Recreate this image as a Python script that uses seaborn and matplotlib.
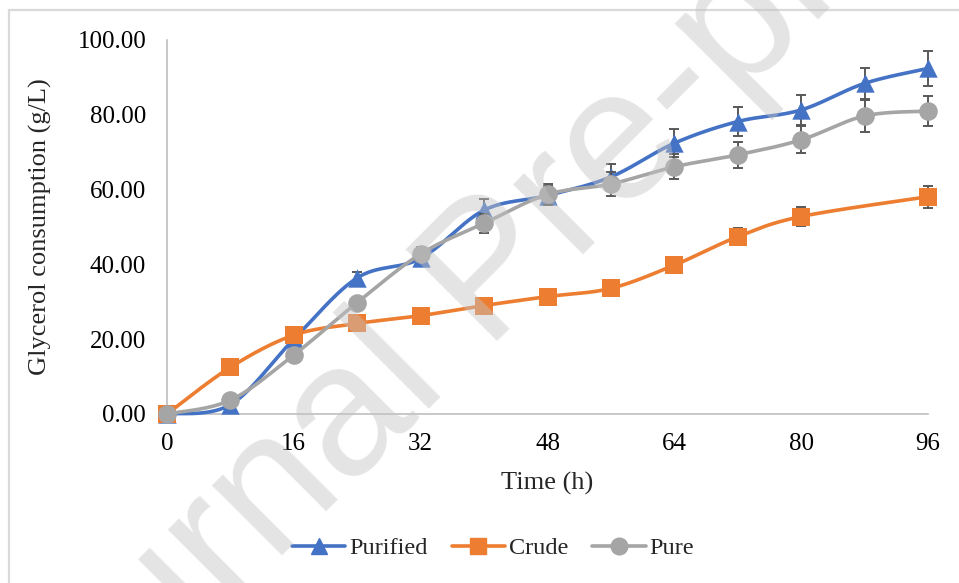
import numpy as np
import pandas as pd
import matplotlib
matplotlib.use("Agg")
import matplotlib.pyplot as plt
from matplotlib.lines import Line2D
from matplotlib.patches import Rectangle
from matplotlib.ticker import FormatStrFormatter
import seaborn as sns

# ---- data -------------------------------------------------------------
time_h = [0, 8, 16, 24, 32, 40, 48, 56, 64, 72, 80, 88, 96]

purified = [0.0, 2.5, 20.0, 36.4, 41.6, 54.5, 58.4, 63.4, 72.4, 78.2, 81.3, 88.4, 92.4]
purified_sd = [0.0, 0.3, 0.6, 1.6, 1.0, 2.9, 2.6, 3.4, 3.7, 3.8, 4.0, 4.2, 4.7]

crude = [0.0, 12.5, 21.1, 24.2, 26.3, 29.0, 31.4, 33.6, 39.8, 47.4, 52.8, np.nan, 58.1]
crude_sd = [0.0, 0.4, 0.5, 0.5, 0.5, 0.5, 0.4, 0.4, 1.2, 2.2, 2.6, np.nan, 2.9]

pure = [0.0, 3.7, 15.8, 29.8, 42.8, 51.0, 58.7, 61.5, 66.1, 69.3, 73.3, 79.7, 81.0]
pure_sd = [0.0, 0.4, 0.6, 0.8, 1.8, 2.5, 2.9, 3.1, 3.3, 3.4, 3.6, 4.2, 4.0]

series_names = ["Purified", "Crude", "Pure"]
series_colors = ["#4472C4", "#ED7D31", "#A5A5A5"]
series_markers = ["^", "s", "o"]
x_ticks = [0, 16, 32, 48, 64, 80, 96]
y_ticks = [0, 20, 40, 60, 80, 100]


def smooth_curve(x, y, n=40):
    """Cubic Bezier smoothing through the points (Catmull-Rom style)."""
    pts = np.column_stack([x, y])
    P = np.vstack([pts[0], pts, pts[-1]])
    t = np.linspace(0, 1, n)[:, None]
    out = []
    for i in range(1, len(P) - 2):
        p0, p1, p2, p3 = P[i - 1], P[i], P[i + 1], P[i + 2]
        c1 = p1 + (p2 - p0) / 6.0
        c2 = p2 - (p3 - p1) / 6.0
        seg = ((1 - t) ** 3) * p1 + 3 * ((1 - t) ** 2) * t * c1 \
            + 3 * (1 - t) * (t ** 2) * c2 + (t ** 3) * p2
        out.append(seg if i == 1 else seg[1:])
    return np.vstack(out)


sns.set_theme(style="white")
plt.rcParams["font.family"] = ["Liberation Serif", "DejaVu Serif"]

W, H = 959, 583
fig = plt.figure(figsize=(W / 100, H / 100), dpi=100)
ax = fig.add_axes([167 / W, (H - 414) / H, (928 - 167) / W, (414 - 40) / H])

values = [purified, crude, pure]
errors = [purified_sd, crude_sd, pure_sd]
marker_sizes = [175, 150, 180]

for k, (name, vals, sd, col, mk) in enumerate(
        zip(series_names, values, errors, series_colors, series_markers)):
    df = pd.DataFrame({"time": time_h, "value": vals, "sd": sd}).dropna()
    curve = smooth_curve(df["time"].to_numpy(float), df["value"].to_numpy(float))
    cdf = pd.DataFrame({"time": curve[:, 0], "value": curve[:, 1]})
    z = 3 + 3 * k
    sns.lineplot(data=cdf, x="time", y="value", sort=False, estimator=None,
                 color=col, linewidth=2.6, ax=ax, zorder=z, legend=False)
    ax.errorbar(df["time"], df["value"], yerr=df["sd"], fmt="none",
                ecolor="#595959", elinewidth=1.4, capsize=3.8,
                capthick=1.4, zorder=z + 1)
    sns.scatterplot(data=df, x="time", y="value", marker=mk, color=col,
                    s=marker_sizes[k], linewidth=0, ax=ax, zorder=z + 2,
                    legend=False)

for artist in ax.collections + ax.lines:
    artist.set_clip_on(False)

ax.set_xlim(0, 96)
ax.set_ylim(0, 100)
ax.set_xticks(x_ticks)
ax.set_yticks(y_ticks)
ax.yaxis.set_major_formatter(FormatStrFormatter("%.2f"))
ax.tick_params(axis="both", length=0, labelsize=18, colors="black")
ax.tick_params(axis="y", pad=15)
ax.tick_params(axis="x", pad=14)
ax.set_xlabel("Time (h)", fontsize=19, labelpad=12)
ax.set_ylabel("Glycerol consumption (g/L)", fontsize=19, labelpad=18)
for side in ["top", "right"]:
    ax.spines[side].set_visible(False)
for side in ["left", "bottom"]:
    ax.spines[side].set_color("#BFBFBF")
    ax.spines[side].set_linewidth(1.2)
    ax.spines[side].set_zorder(1)
ax.grid(False)

handles = [Line2D([], [], color=c, marker=m, markersize=ms, linewidth=2.6)
           for c, m, ms in zip(series_colors, series_markers, [12, 11, 12])]
fig.legend(handles, series_names, loc="center", bbox_to_anchor=(493 / W, 1 - 548 / H),
           ncol=3, frameon=False, fontsize=17.5, handlelength=2.2,
           handletextpad=0.15, columnspacing=1.0)

# chart area border
fig.patches.append(Rectangle((9 / W, -0.2), 1.2, 1.2 - 10 / H,
                             transform=fig.transFigure, fill=False,
                             edgecolor="#D9D9D9", linewidth=1.6))

# diagonal watermark
fig.text(16 / W, 1 - 821 / H, "Journal Pre-proof", rotation=45,
         rotation_mode="anchor", ha="left", va="baseline", fontsize=134.6,
         family="Liberation Sans", color="#C4C4C4", alpha=0.45, zorder=20)

fig.savefig("out.png", dpi=100)
